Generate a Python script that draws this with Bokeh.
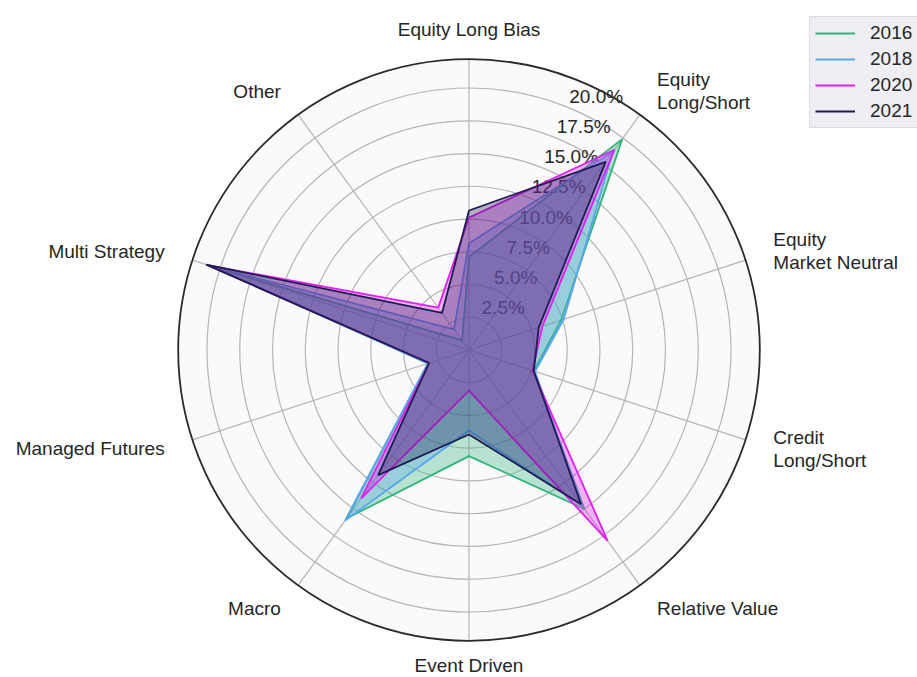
import numpy as np
from bokeh.plotting import figure
from bokeh.models import Range1d, Legend, LegendItem
from bokeh.core.properties import value
from bokeh.embed import file_html
from bokeh.resources import INLINE

# ---- data ----
categories = ["Equity Long Bias", "Equity\nLong/Short", "Equity\nMarket Neutral",
              "Credit\nLong/Short", "Relative Value", "Event Driven", "Macro",
              "Managed Futures", "Multi Strategy", "Other"]
years = ["2016", "2018", "2020", "2021"]
v2016 = [7.1, 19.9, 7.4, 5.2, 15.0, 8.1, 15.9, 3.3, 20.5, 0.9]
v2018 = [8.15, 18.7, 7.6, 5.3, 14.7, 6.15, 16.1, 3.3, 20.7, 1.95]
v2020 = [10.1, 18.9, 5.9, 5.1, 18.0, 3.1, 14.0, 3.2, 20.9, 4.0]
v2021 = [10.65, 17.75, 5.6, 5.2, 14.55, 6.45, 11.8, 3.2, 21.1, 3.5]
r_ticks = [2.5, 5.0, 7.5, 10.0, 12.5, 15.0, 17.5, 20.0]
r_tick_labels = ["2.5%", "5.0%", "7.5%", "10.0%", "12.5%", "15.0%", "17.5%", "20.0%"]
r_max = 22.2

series = [v2016, v2018, v2020, v2021]
colors = ["#2fb47a", "#58a6ee", "#e020f0", "#1c1c50"]

# ---- layout ----
W, H = 917, 677
px_per_unit = 13.1
cx, cy = 468.5, 349.5  # centre in canvas pixels (from top-left)
FONT = "Liberation Sans"
TXT = "#262626"

p = figure(width=W, height=H,
           x_range=Range1d(-cx / px_per_unit, (W - cx) / px_per_unit),
           y_range=Range1d(-(H - cy) / px_per_unit, cy / px_per_unit),
           x_axis_type=None, y_axis_type=None, toolbar_location=None,
           output_backend="svg", min_border=0, outline_line_color=None,
           background_fill_color="white", border_fill_color="white")
p.grid.visible = False

n = len(categories)
theta = np.arange(n) * 2 * np.pi / n  # clockwise from top

# background disc
p.circle(x=[0], y=[0], radius=r_max, fill_color="#fafafa", line_color=None)
# grid circles
p.circle(x=[0] * len(r_ticks), y=[0] * len(r_ticks), radius=r_ticks,
         fill_color=None, line_color="#b5b5b5", line_width=1.2)
# spokes
p.segment(x0=[0] * n, y0=[0] * n, x1=list(r_max * np.sin(theta)),
          y1=list(r_max * np.cos(theta)), line_color="#b5b5b5", line_width=1.2)

# radial tick labels
lab_ang = np.deg2rad(22.5)
rt = np.array(r_ticks)
p.text(x=list(rt * np.sin(lab_ang)), y=list(rt * np.cos(lab_ang) + 0.1),
       text=r_tick_labels, text_align="left", text_baseline="bottom",
       text_font=value(FONT), text_font_size="19px", text_color=TXT)

# series
items = []
for yr, vals, col in zip(years, series, colors):
    v = np.array(vals + vals[:1])
    t = np.concatenate([theta, theta[:1]])
    xs = list(v * np.sin(t))
    ys = list(v * np.cos(t))
    p.patch(xs, ys, fill_color=col, fill_alpha=0.33, line_color=None)
    r = p.line(xs, ys, line_color=col, line_width=1.8)
    items.append(LegendItem(label=yr, renderers=[r]))

# outer spine
p.circle(x=[0], y=[0], radius=r_max, fill_color=None, line_color="#2b2b2b", line_width=1.8)

# category labels
sx = np.sin(theta)
aligns = ["center" if abs(s) < 0.01 else ("left" if s > 0 else "right") for s in sx]
for i in range(n):
    lab_r = 24.1 if np.cos(theta[i]) < -0.99 else 24.43
    p.text(x=[lab_r * np.sin(theta[i])], y=[lab_r * np.cos(theta[i])],
           text=[categories[i]], text_align=aligns[i], text_baseline="middle",
           text_font=value(FONT), text_font_size="19px", text_color=TXT,
           text_line_height=1.1)

legend = Legend(items=items, location=(809, H - 128), margin=0, padding=5,
                glyph_width=40, glyph_height=20, label_standoff=15, spacing=4,
                label_text_font=FONT, label_text_font_size="19px",
                label_text_color=TXT, border_line_color="#cccccc",
                background_fill_color="#eeeef4", background_fill_alpha=1.0)
p.add_layout(legend)

open("out.html", "w").write(file_html(p, INLINE))
